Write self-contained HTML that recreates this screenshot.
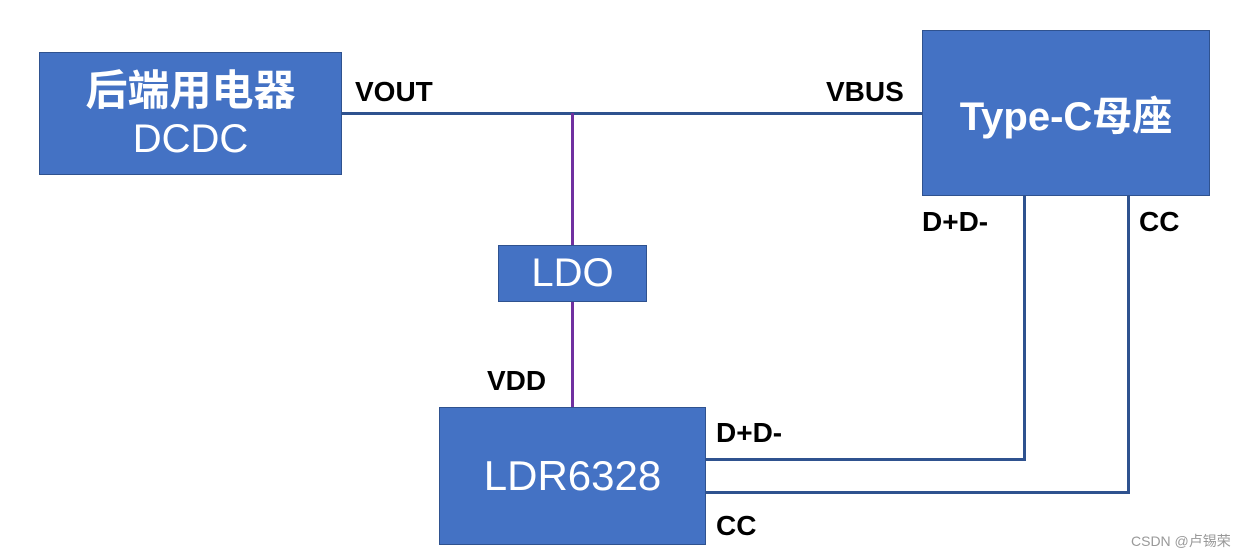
<!DOCTYPE html>
<html><head><meta charset="utf-8"><style>
body{margin:0;width:1246px;height:556px;background:#fff;position:relative;overflow:hidden;font-family:"Liberation Sans","Noto Sans CJK SC",sans-serif}
.b{position:absolute;background:#4472c4;border:1px solid #2f528f;box-sizing:border-box;color:#fff;display:flex;flex-direction:column;align-items:center;justify-content:center;text-align:center}
.l{position:absolute;background:#2f528f}
.p{position:absolute;background:#7030a0}
.t{position:absolute;font-weight:bold;font-size:28px;color:#000}
</style></head><body>
<div class="l" style="left:342px;top:112px;width:580px;height:3px"></div>
<div class="p" style="left:571px;top:113px;width:3px;height:132px"></div>
<div class="p" style="left:571px;top:302px;width:3px;height:105px"></div>
<div class="l" style="left:706px;top:458px;width:320px;height:3px"></div>
<div class="l" style="left:1023px;top:196px;width:3px;height:265px"></div>
<div class="l" style="left:706px;top:491px;width:424px;height:3px"></div>
<div class="l" style="left:1127px;top:196px;width:3px;height:298px"></div>
<div class="b" style="left:39px;top:52px;width:303px;height:123px"><div style="font-size:42px;font-weight:bold;line-height:50px">后端用电器</div><div style="font-size:40px;line-height:46px">DCDC</div></div>
<div class="b" style="left:922px;top:30px;width:288px;height:166px;font-size:40px;font-weight:bold">Type-C母座</div>
<div class="b" style="left:498px;top:245px;width:149px;height:57px;font-size:40px">LDO</div>
<div class="b" style="left:439px;top:407px;width:267px;height:138px;font-size:42px">LDR6328</div>
<div class="t" style="left:355px;top:76px">VOUT</div>
<div class="t" style="left:826px;top:76px">VBUS</div>
<div class="t" style="left:922px;top:206px">D+D-</div>
<div class="t" style="left:1139px;top:206px">CC</div>
<div class="t" style="left:487px;top:365px">VDD</div>
<div class="t" style="left:716px;top:417px">D+D-</div>
<div class="t" style="left:716px;top:510px">CC</div>
<div style="position:absolute;left:1131px;top:531px;font-size:14px;color:#999">CSDN @卢锡荣</div>
</body></html>
